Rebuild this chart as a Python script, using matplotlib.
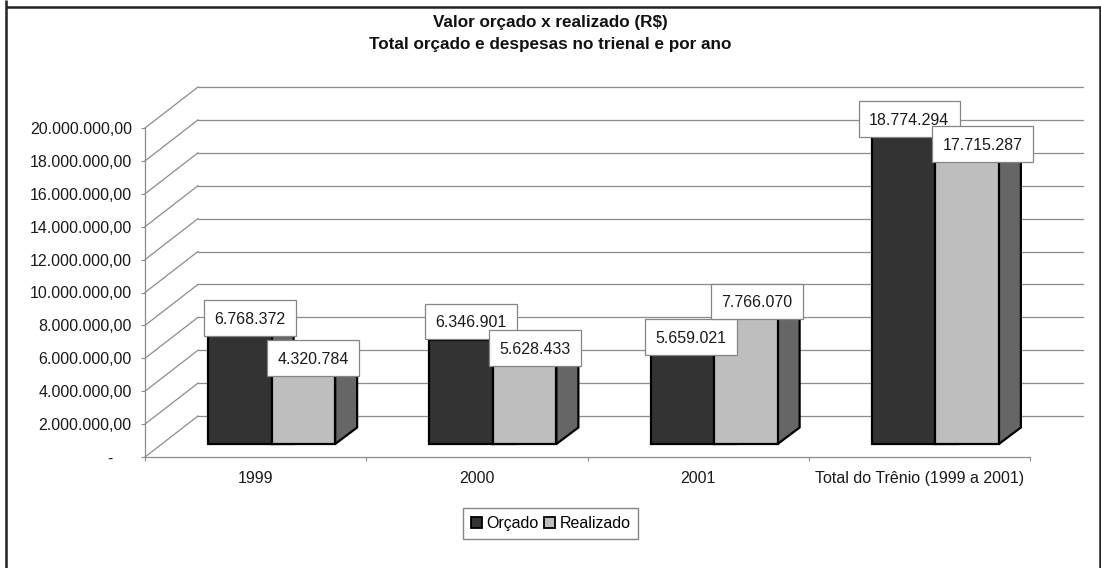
import matplotlib
matplotlib.use("Agg")
import matplotlib.pyplot as plt
from matplotlib.lines import Line2D
from matplotlib.patches import Polygon, Rectangle, Patch
from matplotlib.transforms import Affine2D, ScaledTranslation

title_lines = ["Valor orçado x realizado (R$)", "Total orçado e despesas no trienal e por ano"]
categories = ["1999", "2000", "2001", "Total do Trênio (1999 a 2001)"]
series_names = ["Orçado", "Realizado"]
orcado = [6768372, 6346901, 5659021, 18774294]
realizado = [4320784, 5628433, 7766070, 17715287]
orcado_labels = ["6.768.372", "6.346.901", "5.659.021", "18.774.294"]
realizado_labels = ["4.320.784", "5.628.433", "7.766.070", "17.715.287"]
y_ticks = [0, 2000000, 4000000, 6000000, 8000000, 10000000,
           12000000, 14000000, 16000000, 18000000, 20000000]
y_tick_labels = ["-    ", "2.000.000,00", "4.000.000,00", "6.000.000,00", "8.000.000,00",
                 "10.000.000,00", "12.000.000,00", "14.000.000,00", "16.000.000,00",
                 "18.000.000,00", "20.000.000,00"]

# label placement, in pixels from the top-centre of each bar
orcado_label_off = [(10, 15), (10, 18.5), (8.5, 14), (5.5, 16.5)]
realizado_label_off = [(9.5, 15), (10, 3.5), (11, 15), (15.5, 9)]

DARK, LIGHT, SIDE, GRID = "#333333", "#BEBEBE", "#666666", "#8C8C8C"
FONT = "Liberation Sans"
FS = 11.5
W, H = 1101, 568

plt.rcParams["font.family"] = [FONT, "DejaVu Sans"]
fig = plt.figure(figsize=(W / 100, H / 100), dpi=100, facecolor="white")
ax = fig.add_axes([145 / W, (H - 457) / H, 885 / W, 329 / H])
ax.set_xlim(0, 4)
ax.set_ylim(0, 20000000)
ax.patch.set_visible(False)

px_x = 885 / 4            # pixels per category
px_y = 329 / 20000000     # pixels per value unit

# wall: diagonals and back gridlines
wall = ax.transData + Affine2D().translate(53, 41)
for v in y_ticks:
    ax.plot([0, 4], [v, v], color=GRID, lw=0.9, transform=wall, clip_on=False, zorder=1)
    ax.plot([0, 53 / px_x], [v, v + 41 / px_y], color=GRID, lw=0.9, clip_on=False, zorder=1)

# axes
for s in ("top", "right"):
    ax.spines[s].set_visible(False)
for s in ("left", "bottom"):
    ax.spines[s].set_color(GRID)
    ax.spines[s].set_linewidth(0.9)
    ax.spines[s].set_zorder(1.5)
ax.set_yticks(y_ticks, y_tick_labels, fontsize=FS, color="#1a1a1a")
ax.set_xticks(range(5), [""] * 5)
ax.set_xticks([i + 0.5 for i in range(4)], categories, minor=True, fontsize=FS, color="#1a1a1a")
ax.tick_params(axis="both", which="major", length=3, width=0.8, color=GRID)
ax.tick_params(axis="y", pad=6.5)
ax.tick_params(axis="x", which="minor", length=0, pad=10.3)

# bars
front = ax.transData + Affine2D().translate(16, 13)
bw = 63.5 / px_x
dx = 22 / px_x
dy = 16.5 / px_y
edge = dict(edgecolor="black", linewidth=1.6, joinstyle="miter", clip_on=False)

centers = [i + 0.5 for i in range(4)]
ax.bar([c - bw / 2 for c in centers], orcado, bw, color=DARK, transform=front,
       zorder=3, **edge)
ax.bar([c + bw / 2 for c in centers], realizado, bw, color=LIGHT, transform=front,
       zorder=3, **edge)
for c, a, b in zip(centers, orcado, realizado):
    l0, m, r = c - bw, c, c + bw
    ax.add_patch(Polygon([(l0, a), (l0 + dx, a + dy), (m + dx, a + dy), (m, a)], closed=True,
                         facecolor=DARK, transform=front, zorder=2, **edge))
    ax.add_patch(Polygon([(m, a), (m + dx, a + dy), (m + dx, 0), (m, 0)], closed=True,
                         facecolor=SIDE, transform=front, zorder=2, **edge))
    ax.add_patch(Polygon([(m, b), (m + dx, b + dy), (r + dx, b + dy), (r, b)], closed=True,
                         facecolor=LIGHT, transform=front, zorder=2.5, **edge))
    ax.add_patch(Polygon([(r, b), (r + dx, b + dy), (r + dx, dy), (r, 0)], closed=True,
                         facecolor=SIDE, transform=front, zorder=2.5, **edge))

# value labels
renderer = fig.canvas.get_renderer()
z = 5
def put_label(x, v, txt, off):
    global z
    base = Affine2D().translate(16 + off[0], 13 + off[1]) + ScaledTranslation(x, v, ax.transData)
    t = ax.text(0, 0, txt, transform=base, ha="center", va="center_baseline", fontsize=FS,
                color="#1a1a1a", zorder=z + 1, clip_on=False)
    w = t.get_window_extent(renderer).width + 21
    ax.add_patch(Rectangle((-w / 2, -18), w, 35.5, transform=base, facecolor="white",
                           edgecolor="#858585", linewidth=0.9, zorder=z, clip_on=False))
    z += 2

for i, c in enumerate(centers):
    put_label(c - bw / 2, orcado[i], orcado_labels[i], orcado_label_off[i])
for i, c in enumerate(centers):
    put_label(c + bw / 2, realizado[i], realizado_labels[i], realizado_label_off[i])

# legend
handles = [Patch(facecolor=DARK, edgecolor="black", linewidth=1.3, label=series_names[0]),
           Patch(facecolor=LIGHT, edgecolor="black", linewidth=1.3, label=series_names[1])]
fig.legend(handles=handles, ncol=2, loc="center", bbox_to_anchor=(550.5 / W, 1 - 523.5 / H),
           fontsize=FS, frameon=True, fancybox=False, framealpha=1, edgecolor="#858585",
           handlelength=0.7, handleheight=0.7, handletextpad=0.3, columnspacing=0.3,
           borderpad=0.5, borderaxespad=0)

# title
for line, y in zip(title_lines, (23, 45)):
    fig.text(550.5 / W, 1 - y / H, line, ha="center", va="center", fontsize=12.3,
             fontweight="bold", color="#111111")

# outer frame (open at the bottom)
for xs, ys in (((6, 6), (0, H)), ((6, W), (6.5, 6.5)), ((1099.5, 1099.5), (6, H))):
    fig.add_artist(Line2D([x / W for x in xs], [1 - y / H for y in ys], color="#222222",
                          lw=1.8, solid_capstyle="butt"))

fig.savefig("out.png", dpi=100, facecolor="white")
